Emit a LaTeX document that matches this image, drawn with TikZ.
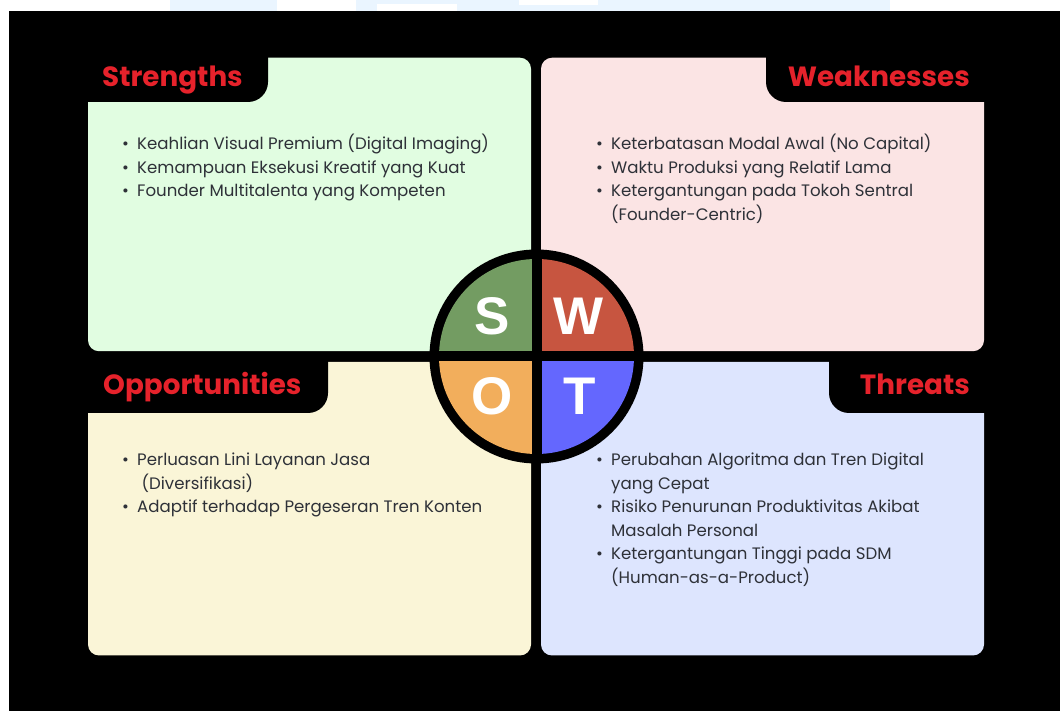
\documentclass[tikz,border=0pt]{standalone}
\usepackage{fontspec}
\setmainfont{Poppins}
\newfontfamily\letterfont{Liberation Sans}
\usetikzlibrary{positioning}

\definecolor{sbg}{HTML}{E1FDE1}
\definecolor{wbg}{HTML}{FBE4E4}
\definecolor{obg}{HTML}{FAF5D7}
\definecolor{tbg}{HTML}{DDE5FE}
\definecolor{sfill}{HTML}{739C62}
\definecolor{wfill}{HTML}{C75540}
\definecolor{ofill}{HTML}{F2AE5C}
\definecolor{tfill}{HTML}{6467FE}
\definecolor{titlered}{HTML}{E6222B}
\definecolor{itemgray}{HTML}{2E3138}
\definecolor{paleblue}{HTML}{EAF5FF}

\newcommand{\bul}{\hspace*{3pt}\makebox[15pt][l]{\textbullet}}
\newcommand{\ind}{\hspace*{18pt}}

\tikzset{
  box/.style={rounded corners=11pt, inner sep=0pt, minimum width=443pt, minimum height=293.5pt},
  tabtitle/.style={font=\fontsize{27.8}{30}\selectfont\bfseries, text=titlered, inner sep=0pt},
  itemlist/.style={font=\fontsize{16.6}{23.5}\selectfont, text=itemgray, align=left, inner sep=0pt, anchor=base west},
  letter/.style={font=\letterfont\bfseries\fontsize{53}{53}\selectfont, text=white, inner sep=0pt}
}

\begin{document}
\begin{tikzpicture}[x=1pt, y=1pt]
  \useasboundingbox (0,0) rectangle (1060,711);
  % page strip and background
  \fill[white] (0,0) rectangle (1060,711);
  \fill[paleblue] (170,700) rectangle (277,711);
  \fill[paleblue] (356,700) rectangle (890,711);
  \fill[white] (377,700) rectangle (457,707);
  \fill[white] (519,706) rectangle (598,711);
  \fill[black] (9,0) rectangle (1060,700);

  % the four boxes
  \node[box, fill=sbg] (sbox) at (309.5,506.5) {};
  \node[box, fill=wbg] (wbox) at (762.5,506.5) {};
  \node[box, fill=obg] (obox) at (309.5,202.25) {};
  \node[box, fill=tbg] (tbox) at (762.5,202.25) {};

  % tabs
  \fill[black] (87,654) -- (268,654) -- (268,629) arc[start angle=0, end angle=-90, radius=20] -- (87,609) -- cycle;
  \fill[black] (985,654) -- (766,654) -- (766,629) arc[start angle=180, end angle=270, radius=20] -- (985,609) -- cycle;
  \fill[black] (87,350) -- (328,350) -- (328,318) arc[start angle=0, end angle=-90, radius=20] -- (87,298) -- cycle;
  \fill[black] (985,350) -- (829,350) -- (829,318) arc[start angle=180, end angle=270, radius=20] -- (985,298) -- cycle;

  \node[tabtitle, anchor=base west] (stitle) at (102,624.5) {Strengths};
  \node[tabtitle, anchor=base east] (wtitle) at (970,624.5) {Weaknesses};
  \node[tabtitle, anchor=base west] (otitle) at (103,316.5) {Opportunities};
  \node[tabtitle, anchor=base east] (ttitle) at (970,316.5) {Threats};

  % lists (placed by the baseline of their last line)
  \node[itemlist] (slist) at (119,514) {\bul Keahlian Visual Premium (Digital Imaging)\\
    \bul Kemampuan Eksekusi Kreatif yang Kuat\\
    \bul Founder Multitalenta yang Kompeten};
  \node[itemlist] (wlist) at (593,490.5) {\bul Keterbatasan Modal Awal (No Capital)\\
    \bul Waktu Produksi yang Relatif Lama\\
    \bul Ketergantungan pada Tokoh Sentral\\
    \ind (Founder-Centric)};
  \node[itemlist] (olist) at (119,198) {\bul Perluasan Lini Layanan Jasa\\
    \ind\ (Diversifikasi)\\
    \bul Adaptif terhadap Pergeseran Tren Konten};
  \node[itemlist] (tlist) at (593,127.5) {\bul Perubahan Algoritma dan Tren Digital\\
    \ind yang Cepat\\
    \bul Risiko Penurunan Produktivitas Akibat\\
    \ind Masalah Personal\\
    \bul Ketergantungan Tinggi pada SDM\\
    \ind (Human-as-a-Product)};

  % center circle
  \coordinate (c) at (536.5,354.5);
  \fill[black] (c) circle[radius=107];
  \begin{scope}
    \clip (c) circle[radius=97.5];
    \fill[sfill] (430,359.5) rectangle (531.5,460);
    \fill[wfill] (541.5,359.5) rectangle (645,460);
    \fill[ofill] (430,349.5) rectangle (531.5,250);
    \fill[tfill] (541.5,349.5) rectangle (645,250);
  \end{scope}
  \node[letter] (sletter) at (492,395) {S};
  \node[letter] (wletter) at (579,395) {W};
  \node[letter] (oletter) at (492,315) {O};
  \node[letter] (tletter) at (580,315) {T};
\end{tikzpicture}
\end{document}
